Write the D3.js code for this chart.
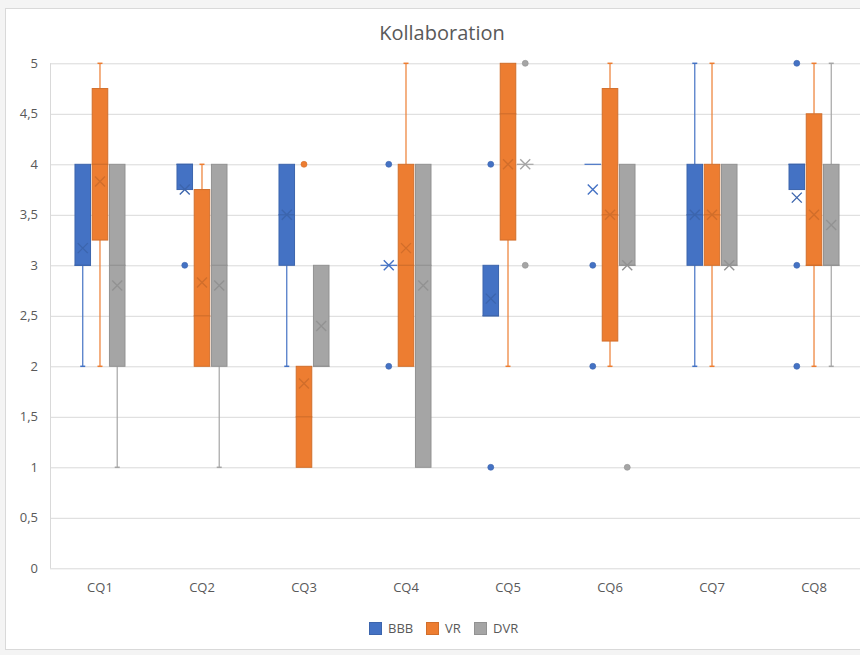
<!DOCTYPE html>
<html>
<head>
<meta charset="utf-8">
<script src="https://cdn.jsdelivr.net/npm/d3@7"></script>
<style>
  html, body { margin: 0; padding: 0; background: #f4f4f4; }
  svg { display: block; }
  text { font-family: "Open Sans", "Noto Sans", sans-serif; fill: #595959; }
</style>
</head>
<body>
<svg id="chart" width="860" height="655"></svg>
<script>
// ---------- DATA ----------
const categories = ["CQ1", "CQ2", "CQ3", "CQ4", "CQ5", "CQ6", "CQ7", "CQ8"];
const seriesNames = ["BBB", "VR", "DVR"];
const seriesColors = ["#4472C4", "#ED7D31", "#A5A5A5"];
const yTicks = [0, 0.5, 1, 1.5, 2, 2.5, 3, 3.5, 4, 4.5, 5];

// BBB
const bbbQ1     = [3,    3.75, 3,   3, 2.5,  4,    3,   3.75];
const bbbMedian = [3,    4,    3.5, 3, 2.5,  4,    3.5, 4];
const bbbQ3     = [4,    4,    4,   3, 3,    4,    4,   4];
const bbbLow    = [2,    3.75, 2,   3, 2.5,  4,    2,   3.75];
const bbbHigh   = [4,    4,    4,   3, 3,    4,    5,   4];
const bbbMean   = [3.17, 3.75, 3.5, 3, 2.67, 3.75, 3.5, 3.67];
const bbbOutliers = [[], [3], [], [4, 2], [4, 1], [3, 2], [], [5, 3, 2]];

// VR
const vrQ1     = [3.25, 2,    1,    2,    3.25, 2.25, 3,   3];
const vrMedian = [4,    2.5,  1.5,  3,    4.5,  3.5,  3.5, 3];
const vrQ3     = [4.75, 3.75, 2,    4,    5,    4.75, 4,   4.5];
const vrLow    = [2,    2,    1,    2,    2,    2,    2,   2];
const vrHigh   = [5,    4,    2,    5,    5,    5,    5,   5];
const vrMean   = [3.83, 2.83, 1.83, 3.17, 4,    3.5,  3.5, 3.5];
const vrOutliers = [[], [], [4], [], [], [], [], []];

// DVR
const dvrQ1     = [2,   2,   2,   1,   4, 3, 3, 3];
const dvrMedian = [3,   3,   2,   3,   4, 3, 3, 3];
const dvrQ3     = [4,   4,   3,   4,   4, 4, 4, 4];
const dvrLow    = [1,   1,   2,   1,   4, 3, 3, 2];
const dvrHigh   = [4,   4,   3,   4,   4, 4, 4, 5];
const dvrMean   = [2.8, 2.8, 2.4, 2.8, 4, 3, 3, 3.4];
const dvrOutliers = [[], [], [], [], [5, 3], [1], [], []];

const seriesData = [
  {q1: bbbQ1, med: bbbMedian, q3: bbbQ3, lo: bbbLow, hi: bbbHigh, mean: bbbMean, out: bbbOutliers},
  {q1: vrQ1,  med: vrMedian,  q3: vrQ3,  lo: vrLow,  hi: vrHigh,  mean: vrMean,  out: vrOutliers},
  {q1: dvrQ1, med: dvrMedian, q3: dvrQ3, lo: dvrLow, hi: dvrHigh, mean: dvrMean, out: dvrOutliers}
];

// ---------- CHART ----------
const svg = d3.select("#chart");

// frame
svg.append("rect")
  .attr("x", 5.5).attr("y", 8.5)
  .attr("width", 870).attr("height", 641)
  .attr("fill", "#ffffff")
  .attr("stroke", "#d9d9d9");

const plot = {left: 50, right: 864, top: 63.3, bottom: 568.3};

const x0 = d3.scaleBand().domain(categories)
  .range([plot.left, plot.right]).paddingInner(0.5).paddingOuter(0.24);
const x1 = d3.scaleBand().domain(seriesNames)
  .range([0, x0.bandwidth()]).paddingInner(0.04);
const y = d3.scaleLinear().domain([0, 5]).range([plot.bottom, plot.top]);

const locale = d3.formatLocale({decimal: ",", thousands: ".", grouping: [3], currency: ["", " €"]});
const fmt = locale.format("~g");

// gridlines
const yAxis = d3.axisLeft(y).tickValues(yTicks).tickSize(-(plot.right - plot.left)).tickFormat(fmt).tickPadding(12);
const gy = svg.append("g").attr("transform", `translate(${plot.left},0)`).call(yAxis);
gy.select(".domain").remove();
gy.selectAll(".tick line").attr("stroke", "#d9d9d9").attr("stroke-width", 1);
gy.selectAll(".tick text").attr("font-size", 13).attr("fill", "#595959")
  .style("font-family", '"Open Sans", "Noto Sans", sans-serif');

// left vertical axis line
svg.append("line")
  .attr("x1", plot.left + 0.5).attr("x2", plot.left + 0.5)
  .attr("y1", plot.top).attr("y2", plot.bottom)
  .attr("stroke", "#d9d9d9");

// x axis labels
const xAxis = d3.axisBottom(x0).tickSize(0).tickPadding(14);
const gx = svg.append("g").attr("transform", `translate(0,${plot.bottom})`).call(xAxis);
gx.select(".domain").remove();
gx.selectAll(".tick text").attr("font-size", 13).attr("fill", "#595959")
  .style("font-family", '"Open Sans", "Noto Sans", sans-serif');

// boxes
seriesNames.forEach((name, si) => {
  const s = seriesData[si];
  const color = seriesColors[si];
  const dark = d3.color(color).darker(0.35).formatHex();
  const g = svg.append("g");
  const w = x1.bandwidth();
  categories.forEach((cat, ci) => {
    const bx = x0(cat) + x1(name);
    const cx = bx + w / 2;
    // whiskers
    if (s.hi[ci] > s.q3[ci]) {
      g.append("line").attr("x1", cx).attr("x2", cx)
        .attr("y1", y(s.q3[ci])).attr("y2", y(s.hi[ci])).attr("stroke", color).attr("stroke-width", 1.2);
      g.append("line").attr("x1", cx - 2.5).attr("x2", cx + 2.5)
        .attr("y1", y(s.hi[ci])).attr("y2", y(s.hi[ci])).attr("stroke", color).attr("stroke-width", 1.5);
    }
    if (s.lo[ci] < s.q1[ci]) {
      g.append("line").attr("x1", cx).attr("x2", cx)
        .attr("y1", y(s.q1[ci])).attr("y2", y(s.lo[ci])).attr("stroke", color).attr("stroke-width", 1.2);
      g.append("line").attr("x1", cx - 2.5).attr("x2", cx + 2.5)
        .attr("y1", y(s.lo[ci])).attr("y2", y(s.lo[ci])).attr("stroke", color).attr("stroke-width", 1.5);
    }
    // box
    const h = y(s.q1[ci]) - y(s.q3[ci]);
    if (h > 0) {
      g.append("rect").attr("x", bx + 0.5).attr("y", y(s.q3[ci]))
        .attr("width", w - 1).attr("height", h)
        .attr("fill", color).attr("stroke", dark).attr("stroke-width", 1);
    }
    // median
    g.append("line").attr("x1", bx).attr("x2", bx + w)
      .attr("y1", y(s.med[ci])).attr("y2", y(s.med[ci]))
      .attr("stroke", h > 0 ? dark : color).attr("stroke-width", 1.2);
    // mean marker
    const my = y(s.mean[ci]);
    const r = 5;
    const mcol = h > 0 ? dark : color;
    g.append("path")
      .attr("d", `M${cx - r},${my - r}L${cx + r},${my + r}M${cx - r},${my + r}L${cx + r},${my - r}`)
      .attr("stroke", mcol).attr("stroke-width", 1.4).attr("fill", "none");
    // outliers
    s.out[ci].forEach(v => {
      g.append("circle").attr("cx", cx).attr("cy", y(v)).attr("r", 3)
        .attr("fill", color).attr("stroke", dark).attr("stroke-width", 0.6);
    });
  });
});

// title
svg.append("text")
  .attr("x", 442).attr("y", 40)
  .attr("text-anchor", "middle")
  .attr("font-size", 20)
  .attr("fill", "#595959")
  .text("Kollaboration");

// legend
const legendX = [369, 426, 474];
const legend = svg.append("g");
seriesNames.forEach((name, i) => {
  legend.append("rect")
    .attr("x", legendX[i] + 0.5).attr("y", 622.5)
    .attr("width", 12).attr("height", 12)
    .attr("fill", seriesColors[i])
    .attr("stroke", d3.color(seriesColors[i]).darker(0.35).formatHex());
  legend.append("text")
    .attr("x", legendX[i] + 19).attr("y", 633)
    .attr("font-size", 13).attr("fill", "#595959")
    .text(name);
});
</script>
</body>
</html>
